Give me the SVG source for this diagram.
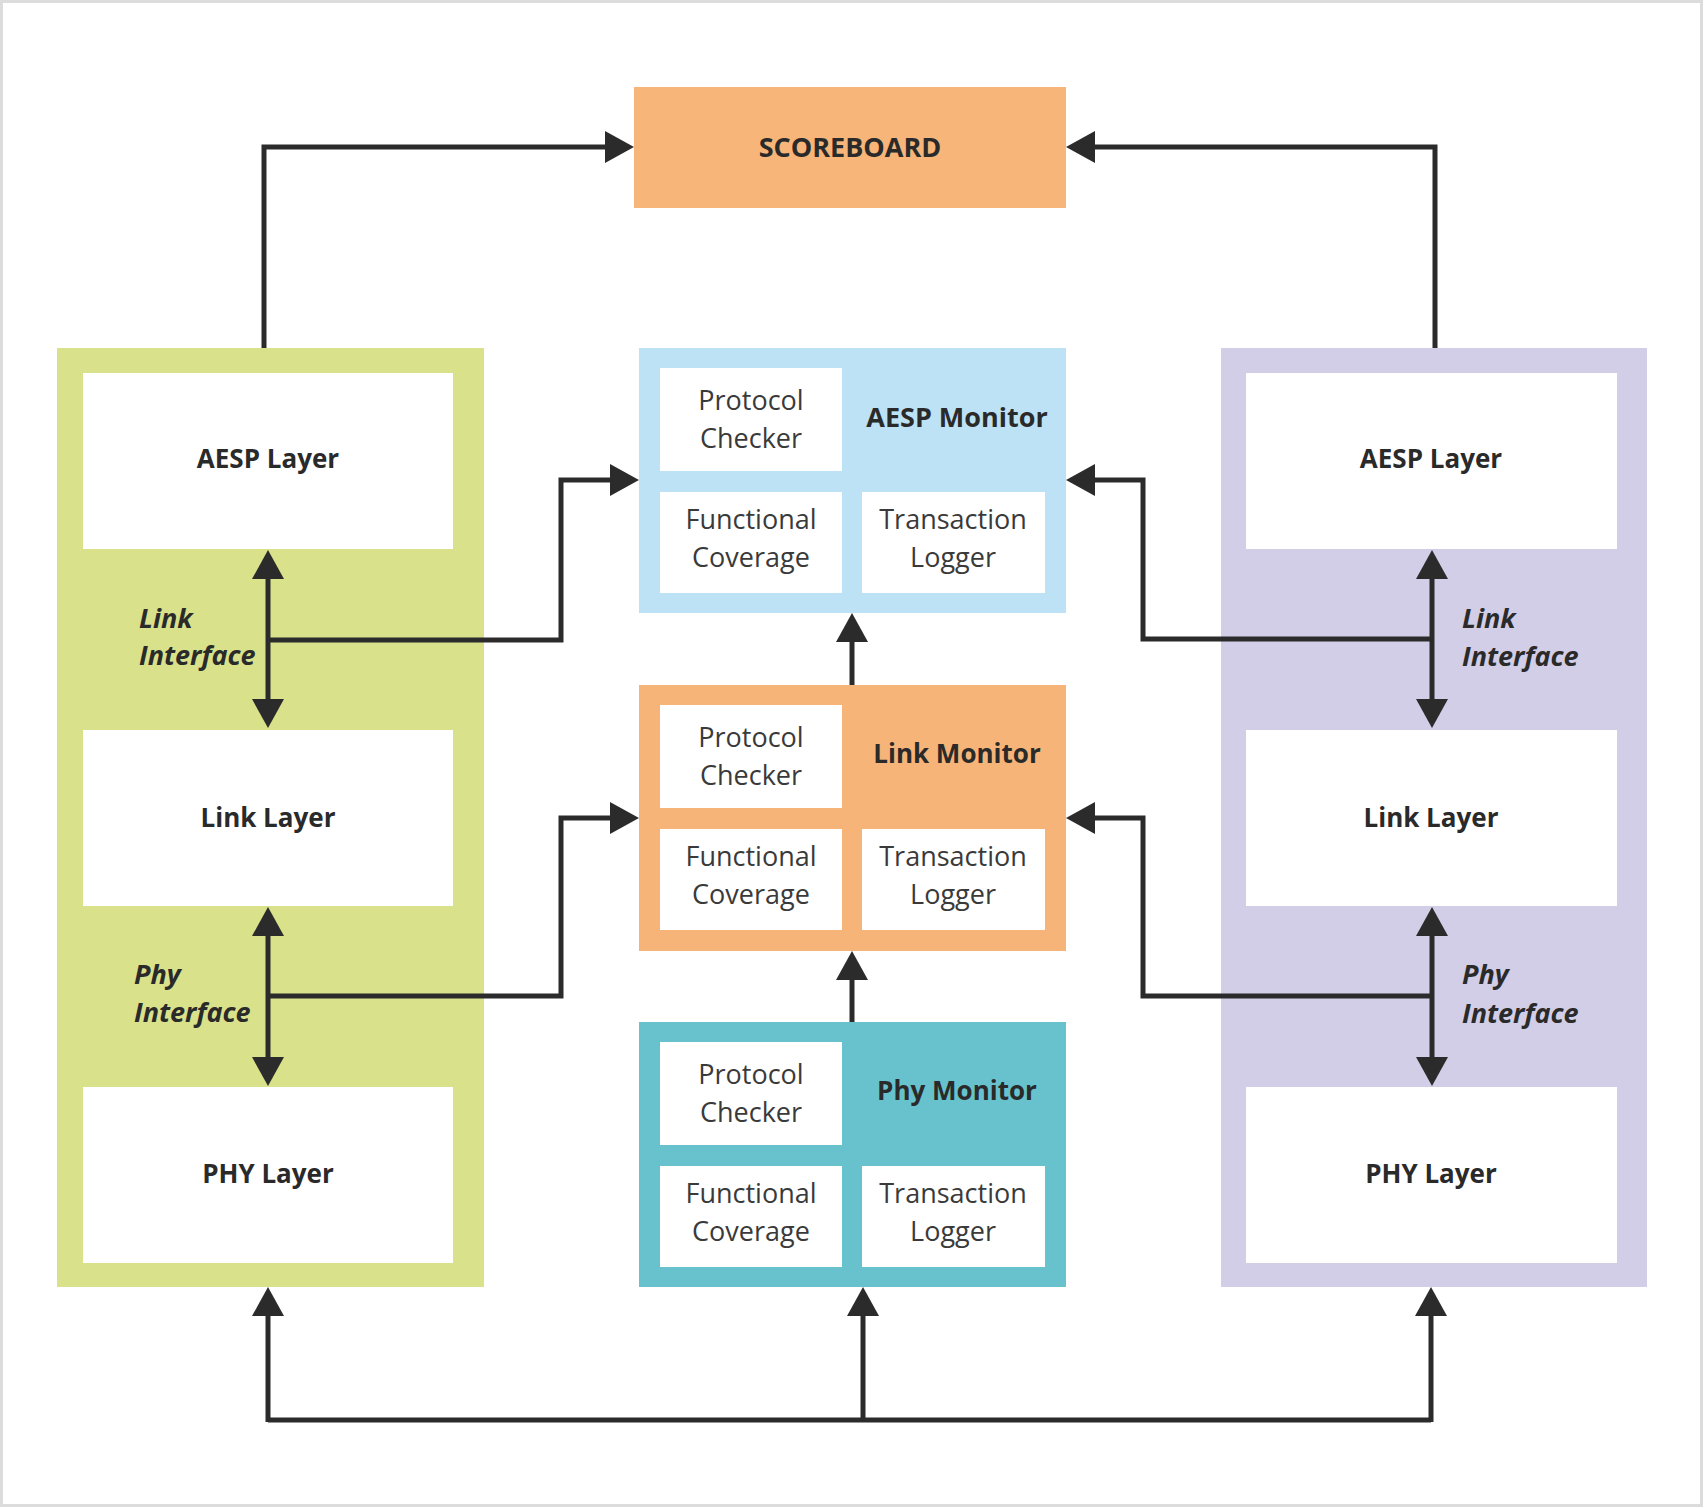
<svg xmlns="http://www.w3.org/2000/svg" width="1705" height="1508" viewBox="0 0 1705 1508">
<defs>
<style>
.t{font-family:"Open Sans","Liberation Sans",sans-serif;font-size:27px;fill:#3a3a3a;text-anchor:middle}
.b{font-family:"Open Sans","Liberation Sans",sans-serif;font-size:26px;font-weight:bold;fill:#2a2a2a;text-anchor:middle}
.h{font-size:27px}
.i{font-family:"Open Sans","Liberation Sans",sans-serif;font-size:27px;font-weight:bold;font-style:italic;fill:#2a2a2a}
.w{fill:#ffffff}
.c{fill:none;stroke:#2b2b2b;stroke-width:5;stroke-linejoin:miter}
</style>
<marker id="ah" markerUnits="userSpaceOnUse" markerWidth="30" markerHeight="32" refX="0" refY="16" orient="auto-start-reverse" viewBox="0 0 30 32">
<path d="M0,0 L29,16 L0,32 z" fill="#2b2b2b"/>
</marker>
</defs>
<rect x="0" y="0" width="1705" height="1508" fill="#ffffff"/>
<rect x="1.5" y="1.5" width="1700" height="1504" fill="none" stroke="#dcdcdc" stroke-width="3"/>

<g id="scoreboard">
<rect x="634" y="87" width="432" height="121" fill="#F7B579"/>
<text class="b h" x="850" y="157">SCOREBOARD</text>
</g>

<g id="left-stack">
<rect x="57" y="348" width="427" height="939" fill="#D9E28A"/>
<g id="left-aesp"><rect class="w" x="83" y="373" width="370" height="176"/><text class="b" x="268" y="468">AESP Layer</text></g>
<g id="left-link"><rect class="w" x="83" y="730" width="370" height="176"/><text class="b" x="268" y="827">Link Layer</text></g>
<g id="left-phy"><rect class="w" x="83" y="1087" width="370" height="176"/><text class="b" x="268" y="1183">PHY Layer</text></g>
<text class="i" x="139" y="628">Link</text>
<text class="i" x="139" y="665">Interface</text>
<text class="i" x="134" y="984">Phy</text>
<text class="i" x="134" y="1022">Interface</text>
</g>

<g id="right-stack">
<rect x="1221" y="348" width="426" height="939" fill="#D2CEE7"/>
<g id="right-aesp"><rect class="w" x="1246" y="373" width="371" height="176"/><text class="b" x="1431" y="468">AESP Layer</text></g>
<g id="right-link"><rect class="w" x="1246" y="730" width="371" height="176"/><text class="b" x="1431" y="827">Link Layer</text></g>
<g id="right-phy"><rect class="w" x="1246" y="1087" width="371" height="176"/><text class="b" x="1431" y="1183">PHY Layer</text></g>
<text class="i" x="1462" y="628">Link</text>
<text class="i" x="1462" y="666">Interface</text>
<text class="i" x="1462" y="984">Phy</text>
<text class="i" x="1462" y="1023">Interface</text>
</g>

<g id="aesp-monitor" transform="translate(0,348)">
<rect x="639" y="0" width="427" height="265" fill="#BDE2F5"/>
<rect class="w" x="660" y="20" width="182" height="103"/>
<rect class="w" x="660" y="144" width="182" height="101"/>
<rect class="w" x="862" y="144" width="183" height="101"/>
<text class="t" x="751" y="62">Protocol</text><text class="t" x="751" y="100">Checker</text>
<text class="t" x="751" y="181">Functional</text><text class="t" x="751" y="219">Coverage</text>
<text class="t" x="953" y="181">Transaction</text><text class="t" x="953" y="219">Logger</text>
<text class="b h" x="957" y="79">AESP Monitor</text>
</g>

<g id="link-monitor" transform="translate(0,685)">
<rect x="639" y="0" width="427" height="266" fill="#F7B478"/>
<rect class="w" x="660" y="20" width="182" height="103"/>
<rect class="w" x="660" y="144" width="182" height="101"/>
<rect class="w" x="862" y="144" width="183" height="101"/>
<text class="t" x="751" y="62">Protocol</text><text class="t" x="751" y="100">Checker</text>
<text class="t" x="751" y="181">Functional</text><text class="t" x="751" y="219">Coverage</text>
<text class="t" x="953" y="181">Transaction</text><text class="t" x="953" y="219">Logger</text>
<text class="b" x="957" y="78">Link Monitor</text>
</g>

<g id="phy-monitor" transform="translate(0,1022)">
<rect x="639" y="0" width="427" height="265" fill="#67C2CE"/>
<rect class="w" x="660" y="20" width="182" height="103"/>
<rect class="w" x="660" y="144" width="182" height="101"/>
<rect class="w" x="862" y="144" width="183" height="101"/>
<text class="t" x="751" y="62">Protocol</text><text class="t" x="751" y="100">Checker</text>
<text class="t" x="751" y="181">Functional</text><text class="t" x="751" y="219">Coverage</text>
<text class="t" x="953" y="181">Transaction</text><text class="t" x="953" y="219">Logger</text>
<text class="b" x="957" y="78">Phy Monitor</text>
</g>

<g id="connectors">
<path class="c" d="M264,348 V147 H605" marker-end="url(#ah)"/>
<path class="c" d="M1435,348 V147 H1095" marker-end="url(#ah)"/>
<path class="c" d="M268,579 V699" marker-start="url(#ah)" marker-end="url(#ah)"/>
<path class="c" d="M268,936 V1057" marker-start="url(#ah)" marker-end="url(#ah)"/>
<path class="c" d="M1432,579 V699" marker-start="url(#ah)" marker-end="url(#ah)"/>
<path class="c" d="M1432,936 V1057" marker-start="url(#ah)" marker-end="url(#ah)"/>
<path class="c" d="M268,640 H561 V480 H610" marker-end="url(#ah)"/>
<path class="c" d="M268,996 H561 V818 H610" marker-end="url(#ah)"/>
<path class="c" d="M1432,639 H1143 V480 H1095" marker-end="url(#ah)"/>
<path class="c" d="M1432,996 H1143 V818 H1095" marker-end="url(#ah)"/>
<path class="c" d="M852,685 V642" marker-end="url(#ah)"/>
<path class="c" d="M852,1022 V980" marker-end="url(#ah)"/>
<path class="c" d="M268,1420 H1431"/>
<path class="c" d="M268,1422 V1316" marker-end="url(#ah)"/>
<path class="c" d="M863,1420 V1316" marker-end="url(#ah)"/>
<path class="c" d="M1431,1422 V1316" marker-end="url(#ah)"/>
</g>
</svg>
